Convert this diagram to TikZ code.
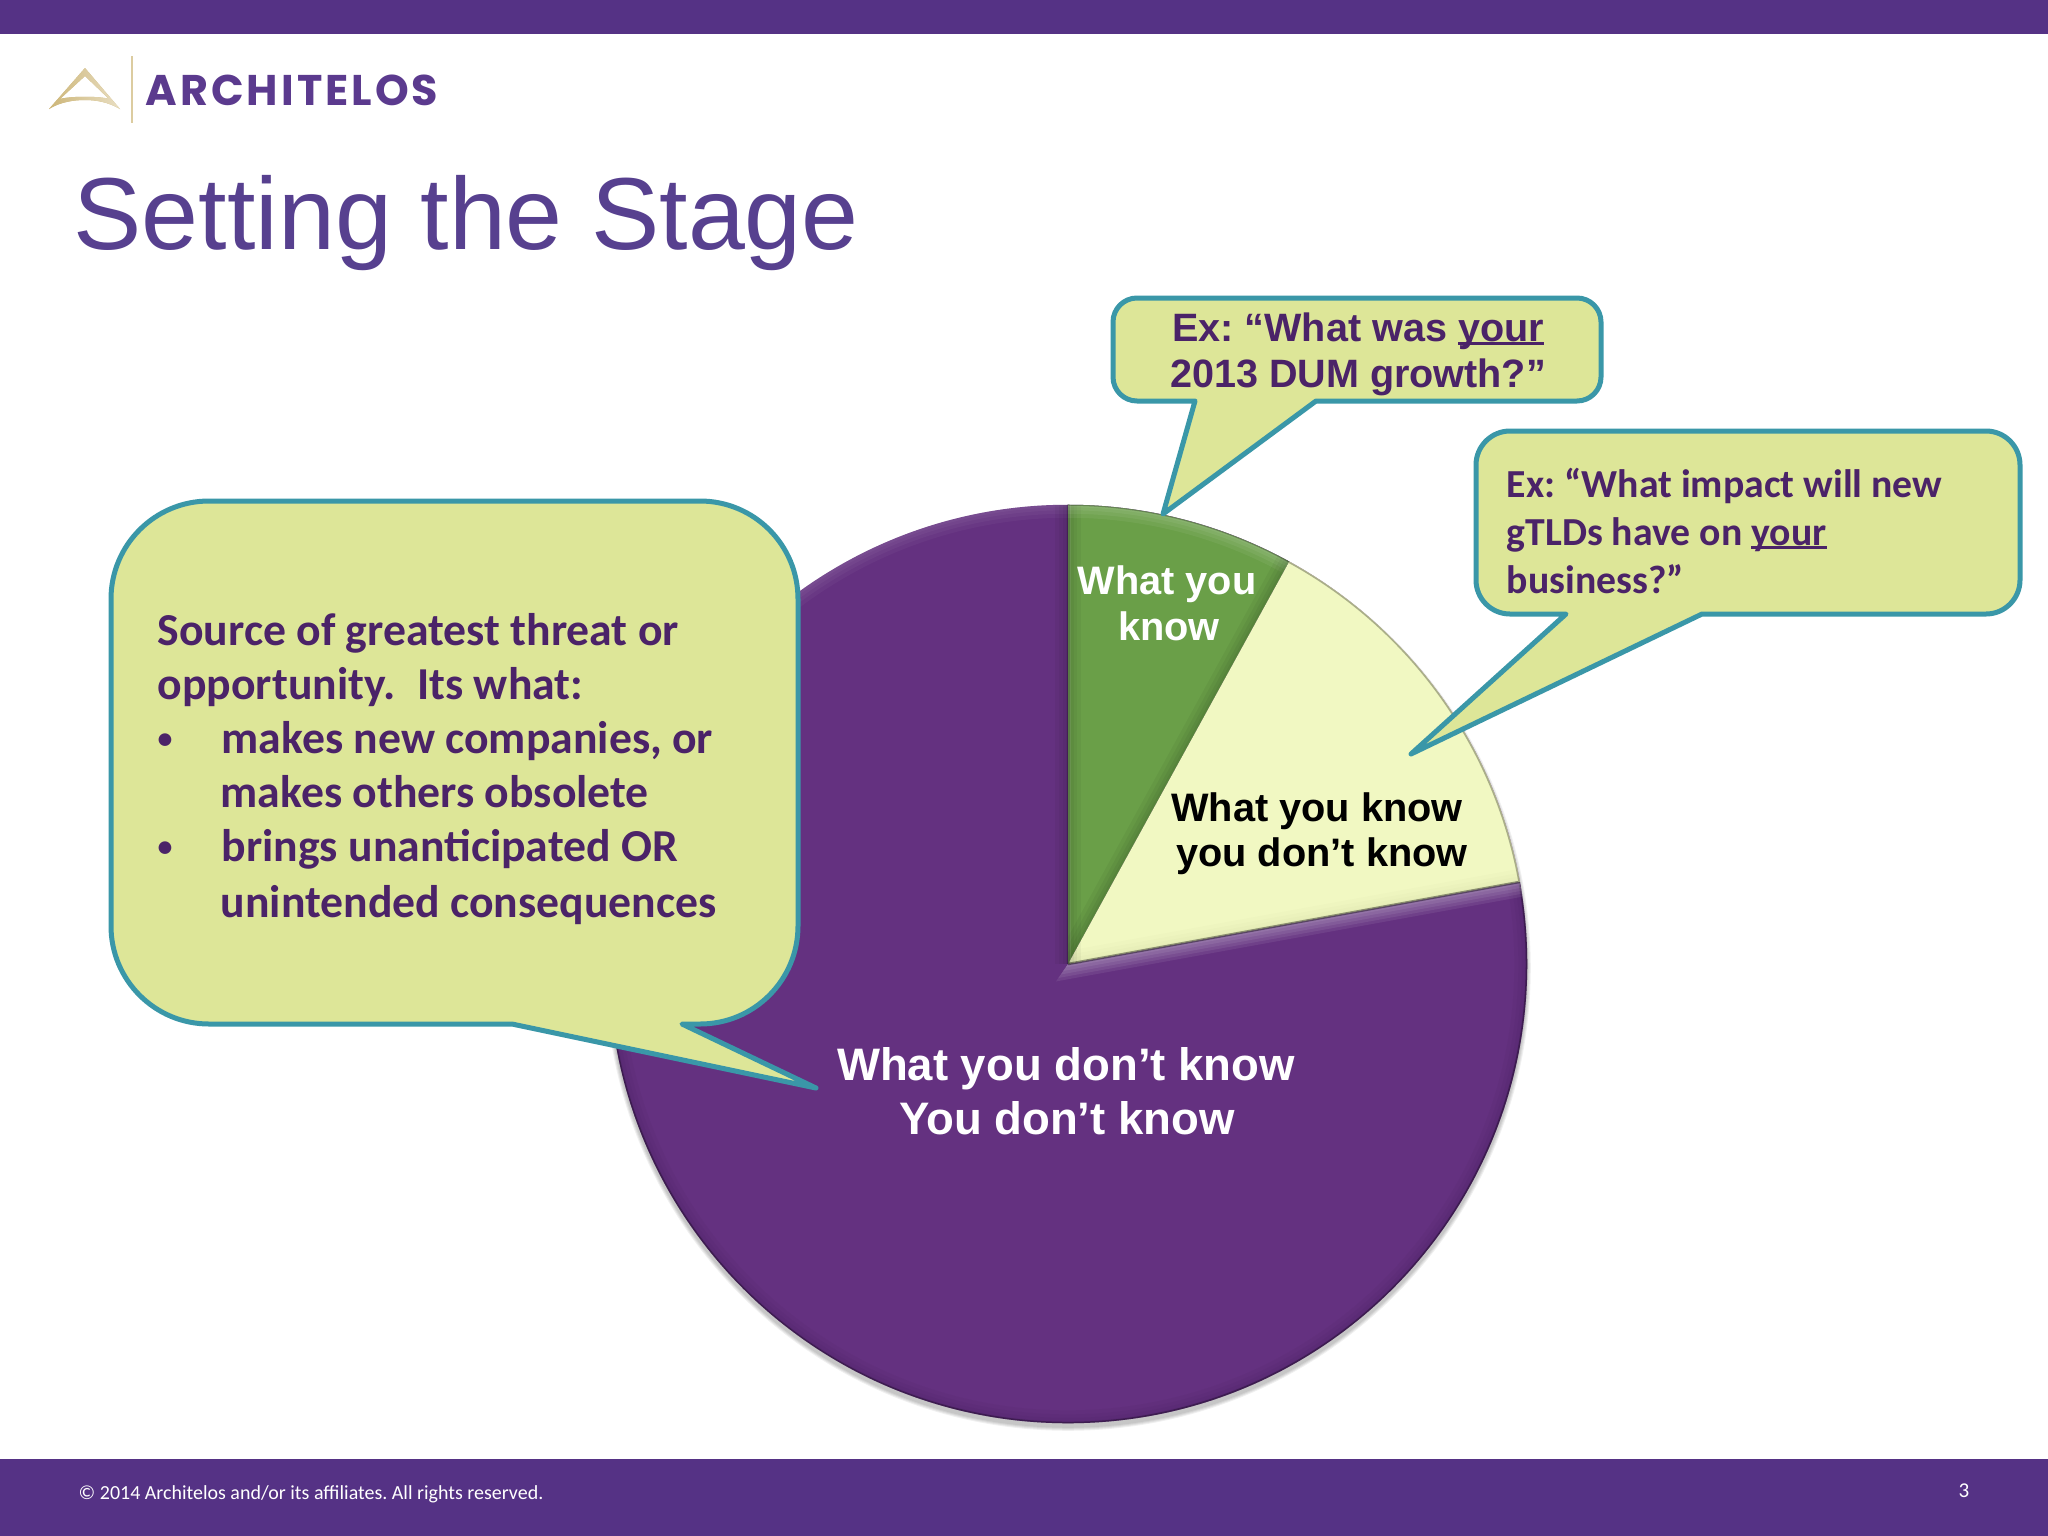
\documentclass[tikz,border=0pt]{standalone}
\usepackage{fontspec}
\setmainfont{Liberation Sans}
\newfontfamily\carlito{Carlito}
\newfontfamily\poppins{Poppins}
\definecolor{band}{HTML}{553285}
\definecolor{titlec}{HTML}{57408F}
\definecolor{logoc}{HTML}{5B3A8E}
\definecolor{pur}{HTML}{643180}
\definecolor{grn}{HTML}{6A9F48}
\definecolor{pale}{HTML}{F1F8C2}
\definecolor{coutfill}{HTML}{DDE698}
\definecolor{coutline}{HTML}{3A97A8}
\definecolor{coutext}{HTML}{4B2368}
\definecolor{gold}{HTML}{CDB678}
\newcommand\ulw[1]{\setbox0=\hbox{#1}\rlap{\rule[-0.10em]{\wd0}{0.07em}}#1}
\newcommand\softline[3]{% colour, opacity, path
  \foreach \w in {0.26,0.18,0.11,0.05}{\draw[line width=\w cm,color=#1,opacity=#2] #3;}}
\tikzset{
  x=0.01cm,y=-0.01cm,
  cout/.style={draw=coutline,fill=coutfill,line width=5*0.01cm,line join=round},
  bigtxt/.style={anchor=base west,inner sep=0,text=coutext,font=\carlito\bfseries\fontsize{13.0}{15}\selectfont},
  smalltxt/.style={anchor=base west,inner sep=0,text=coutext,font=\carlito\bfseries\fontsize{11.3}{13}\selectfont},
  ariallab/.style={anchor=base,inner sep=0,text=coutext,font=\bfseries\fontsize{11.25}{13}\selectfont},
  pielab/.style={anchor=base,inner sep=0,font=\bfseries\fontsize{11.3}{13}\selectfont},
  bigpielab/.style={anchor=base,inner sep=0,text=white,font=\bfseries\fontsize{12.95}{16}\selectfont},
  foot/.style={anchor=base west,inner sep=0,text=white,font=\carlito\fontsize{5.68}{6}\selectfont},
}
\begin{document}
\frenchspacing
\begin{tikzpicture}
\useasboundingbox (0,0) rectangle (2048,1536);
\fill[white] (0,0) rectangle (2048,1536);
% bands
\fill[band] (0,0) rectangle (2048,34);
\fill[band] (0,1459) rectangle (2048,1536);
% logo
\draw[gold!70,line width=0.012cm] (132,56) -- (132,123);
\fill[gold,even odd rule,left color=gold,right color=gold!45]
  (85,68) -- (120,109) .. controls (108,102) and (96,100) .. (85,100)
  .. controls (74,100) and (60,102) .. (49,109) -- cycle
  (85,76) -- (60,99) .. controls (70,96) and (100,96) .. (109,99) -- cycle;
\node[anchor=base west,inner sep=0,text=logoc,font=\poppins\bfseries\addfontfeature{LetterSpace=7}\fontsize{12.2}{14}\selectfont] (logotxt) at (145,105) {ARCHITELOS};
% title
\node[anchor=base west,inner sep=0,text=titlec,font=\fontsize{29.1}{32}\selectfont] (title) at (73,249) {Setting the Stage};
% footer
\node[foot] (copy) at (78,1499) {© 2014 Architelos and/or its affiliates. All rights reserved.};
\node[foot,font=\carlito\fontsize{6}{7}\selectfont] (pageno) at (1958,1497) {3};
% pie
\coordinate (pc) at (1068,964);
\begin{scope}[shift={(pc)},x=1cm,y=1cm]
  % soft shadow
  \foreach \w in {7,5,3,1}{\fill[black,opacity=0.06] (0,-0.04) circle ({4.59+\w*0.01/2});}
  % slices
  \fill[pur] (0,0) -- (90:4.59) arc (90:-349.7:4.59) -- cycle;
  \fill[grn] (0,0) -- (90:4.59) arc (90:61.2:4.59) -- cycle;
  \fill[pale] (0,0) -- (61.2:4.59) arc (61.2:10.3:4.59) -- cycle;
  % bevels: purple
  \begin{scope}
    \clip (0,0) -- (90:4.59) arc (90:-349.7:4.59) -- cycle;
    \softline{black}{0.025}{(10.3:4.59) arc (10.3:-200:4.59)}
    \draw[line width=0.03cm,color=black,opacity=0.3] (-190:4.59) arc (-190:10.3:4.59);
    \begin{scope}[rotate=10.3]
      \foreach \w in {0.15,0.12,0.09,0.06,0.03}{\fill[white,opacity=0.075] (-\w,-\w) -- (4.59,-\w) -- (4.59,0) -- (0,0) -- cycle;}
      \draw[line width=0.025cm,color=black,opacity=0.4] (0,0) -- (4.59,0);
    \end{scope}
    \softline{white}{0.035}{(90:4.59) arc (90:165:4.59)}
    \softline{black}{0.04}{(0,0) -- (90:4.59)}
    \draw[line width=0.03cm,color=black,opacity=0.2] (0,0) -- (90:4.59);
  \end{scope}
  % bevels: green
  \begin{scope}
    \clip (0,0) -- (90:4.59) arc (90:61.2:4.59) -- cycle;
    \softline{white}{0.06}{(90:4.59) arc (90:61.2:4.59)}
    \draw[line width=0.02cm,color=black,opacity=0.25] (90:4.59) arc (90:61.2:4.59);
    \softline{black}{0.045}{(0,0) -- (61.2:4.59)}
    \draw[line width=0.05cm,color=white,opacity=0.1] (0,0) -- (90:4.59);
  \end{scope}
  % bevels: pale
  \begin{scope}
    \clip (0,0) -- (61.2:4.59) arc (61.2:10.3:4.59) -- cycle;
    \draw[line width=0.03cm,color=black!30!pale] (61.2:4.59) arc (61.2:10.3:4.59);
    \softline{black}{0.012}{(0,0) -- (10.3:4.59)}
  \end{scope}
\end{scope}
% pie labels
\node[pielab,text=white] (lab1a) at (1167,594) {What you};
\node[pielab,text=white] (lab1b) at (1169,640) {know};
\node[pielab,text=black] (lab2a) at (1317,821) {What you know};
\node[pielab,text=black] (lab2b) at (1322,866) {you don’t know};
\node[bigpielab] (lab3a) at (1066,1080) {What you don’t know};
\node[bigpielab] (lab3b) at (1067,1134) {You don’t know};
% big callout
\draw[cout] (209,501) -- (700,501) arc (-90:0:98) -- (798,926)
  arc (0:90:98) -- (682,1024) -- (816,1088) -- (512,1024) -- (209,1024)
  arc (90:180:98) -- (111,599) arc (180:270:98) -- cycle;
\node[bigtxt] (b1) at (157,645) {Source of greatest threat or};
\node[bigtxt] (b2) at (157,699) {opportunity.\hspace{0.48em}Its what:};
\node[bigtxt,font=\carlito\bfseries\fontsize{8.5}{10}\selectfont] (b3d) at (157,748) {•};
\node[bigtxt] (b3) at (221,753) {makes new companies, or};
\node[bigtxt] (b4) at (220,807) {makes others obsolete};
\node[bigtxt,font=\carlito\bfseries\fontsize{8.5}{10}\selectfont] (b5d) at (157,856) {•};
\node[bigtxt] (b5) at (221,861) {brings unanticipated OR};
\node[bigtxt] (b6) at (220,917) {unintended consequences};
% callout 1
\draw[cout] (1137,298) -- (1577,298) arc (-90:0:24) -- (1601,377) arc (0:90:24)
  -- (1316,401) -- (1163,514) -- (1195,401) -- (1137,401) arc (90:180:24)
  -- (1113,322) arc (180:270:24) -- cycle;
\node[ariallab] (c1a) at (1358,341) {Ex: “What was \ulw{your}};
\node[ariallab] (c1b) at (1358,387) {2013 DUM growth?”};
% callout 2
\draw[cout] (1510,431) -- (1986,431) arc (-90:0:34) -- (2020,580) arc (0:90:34)
  -- (1702,614) -- (1411,754) -- (1566,614) -- (1510,614) arc (90:180:34)
  -- (1476,465) arc (180:270:34) -- cycle;
\node[smalltxt] (d1) at (1506,497) {Ex: “What impact will new};
\node[smalltxt] (d2) at (1506,545) {gTLDs have on \ulw{your}};
\node[smalltxt] (d3) at (1506,593) {business?”};
\end{tikzpicture}
\end{document}
